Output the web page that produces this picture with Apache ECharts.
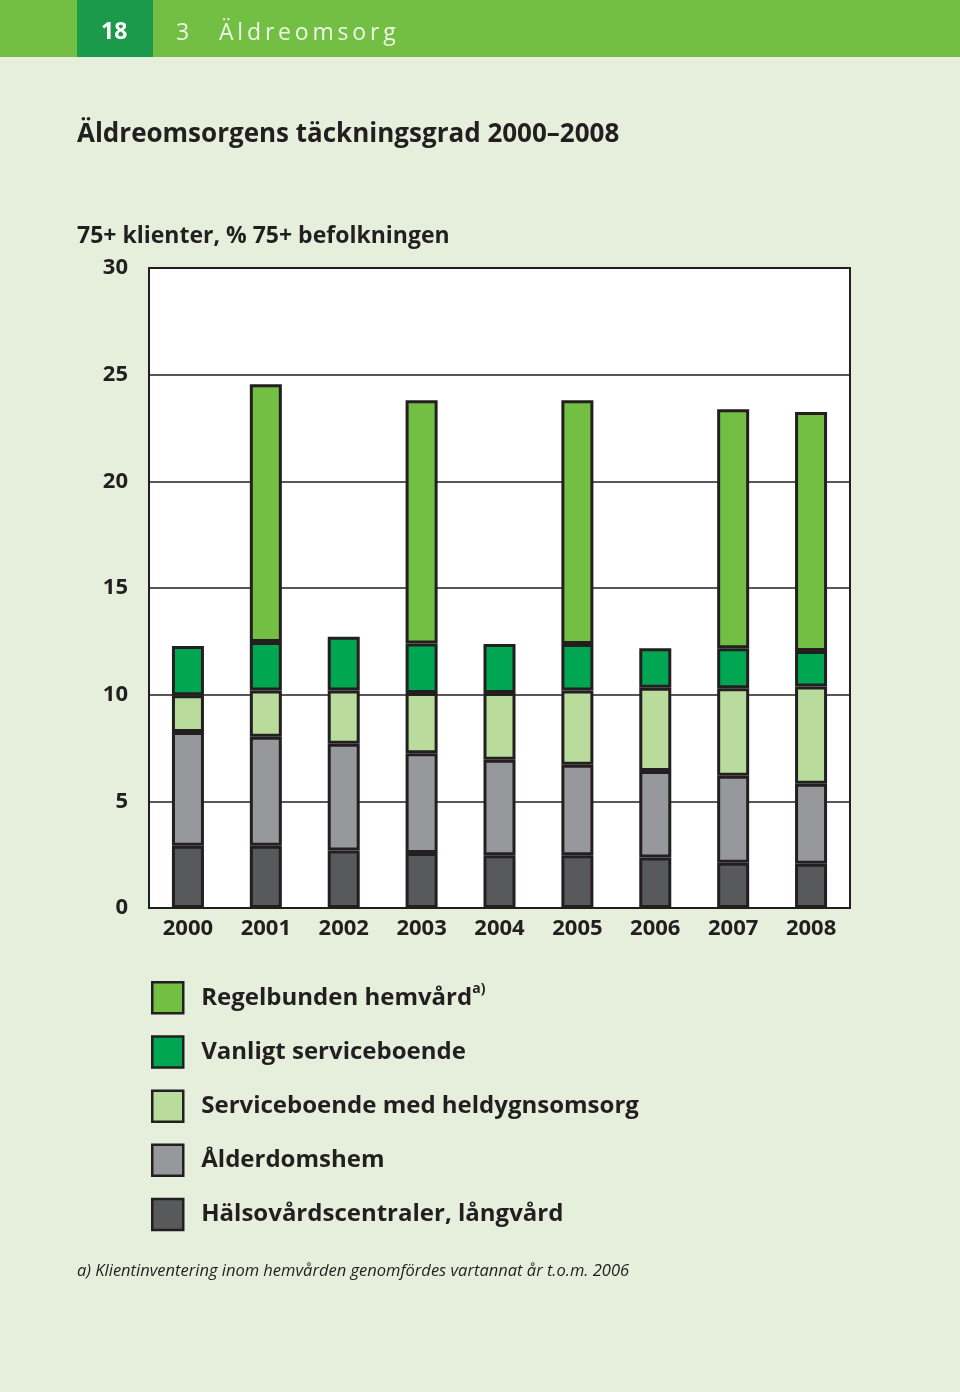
<!DOCTYPE html>
<html>
<head>
<meta charset="utf-8">
<script src="https://cdn.jsdelivr.net/npm/echarts@6/dist/echarts.min.js"></script>
<style>
html,body{margin:0;padding:0;background:#e5efdc;}
#c{width:960px;height:1392px;}
</style>
</head>
<body>
<div id="c"></div>
<script>
const years = ['2000','2001','2002','2003','2004','2005','2006','2007','2008'];
const yTicks = [0, 5, 10, 15, 20, 25, 30];
const halsovard = [2.92, 2.92, 2.70, 2.58, 2.47, 2.47, 2.37, 2.12, 2.08];
const alderdomshem = [5.33, 5.11, 5.00, 4.67, 4.48, 4.25, 4.05, 4.08, 3.75];
const heldygn = [1.72, 2.17, 2.50, 2.83, 3.13, 3.48, 3.91, 4.10, 4.55];
const vanligt = [2.31, 2.27, 2.52, 2.32, 2.29, 2.17, 1.84, 1.87, 1.67];
const regelbunden = [null, 12.08, null, 11.40, null, 11.43, null, 11.21, 11.20];

const names = ['Regelbunden hemvård', 'Vanligt serviceboende', 'Serviceboende med heldygnsomsorg', 'Ålderdomshem', 'Hälsovårdscentraler, långvård'];
const colors = {
  'Regelbunden hemvård': '#72bf44',
  'Vanligt serviceboende': '#00a651',
  'Serviceboende med heldygnsomsorg': '#b9dc9d',
  'Ålderdomshem': '#97989c',
  'Hälsovårdscentraler, långvård': '#58595b'
};
const stackOrder = [
  ['Hälsovårdscentraler, långvård', halsovard],
  ['Ålderdomshem', alderdomshem],
  ['Serviceboende med heldygnsomsorg', heldygn],
  ['Vanligt serviceboende', vanligt],
  ['Regelbunden hemvård', regelbunden]
];
const ink = '#231f20';
const FONT = '"Open Sans", "DejaVu Sans", sans-serif';

const chart = echarts.init(document.getElementById('c'), null, {renderer: 'canvas'});
chart.setOption({
  backgroundColor: '#e5efdc',
  animation: false,
  textStyle: {fontFamily: FONT},
  graphic: [
    {type: 'rect', left: 0, top: 0, shape: {width: 960, height: 57}, style: {fill: '#72bf44'}},
    {type: 'rect', left: 77, top: 0, shape: {width: 76, height: 57}, style: {fill: '#1a9a4a'}},
    {type: 'text', left: 101, top: 21, style: {text: '18', fill: '#ffffff', font: 'bold 23px ' + FONT}},
    {type: 'text', left: 176, top: 22, style: {text: '3', fill: '#eef7e6', font: '23px ' + FONT}},
    {type: 'text', left: 219, top: 22, style: {text: 'Ä\u2009l\u2009d\u2009r\u2009e\u2009o\u2009m\u2009s\u2009o\u2009r\u2009g', fill: '#eef7e6', font: '23px ' + FONT}},
    {type: 'text', left: 77, top: 122, style: {text: 'Äldreomsorgens täckningsgrad 2000–2008', fill: ink, font: 'bold 26px ' + FONT}},
    {type: 'text', left: 77, top: 225, style: {text: '75+ klienter, % 75+ befolkningen', fill: ink, font: 'bold 23px ' + FONT}},
    {type: 'text', left: 77, top: 1263, style: {text: 'a) Klientinventering inom hemvården genomfördes vartannat år t.o.m. 2006', fill: ink, font: 'italic 16.5px ' + FONT}}
  ],
  grid: {
    left: 149, right: 110, top: 268, bottom: 484,
    show: true, backgroundColor: '#ffffff', borderColor: ink, borderWidth: 2
  },
  legend: {
    orient: 'vertical', left: 151, top: 981, padding: 0,
    itemWidth: 31, itemHeight: 31, itemGap: 20.7,
    data: names,
    icon: 'rect',
    itemStyle: {borderColor: ink, borderWidth: 2.5},
    formatter: function (n) {
      return n === 'Regelbunden hemvård' ? '{t|' + n + '}{s|a)}' : '{t|' + n + '}';
    },
    textStyle: {
      color: ink, fontFamily: FONT, fontWeight: 'bold', fontSize: 24, lineHeight: 31, padding: [0, 0, 0, 13],
      rich: {
        t: {color: ink, fontFamily: FONT, fontWeight: 'bold', fontSize: 24, lineHeight: 31},
        s: {color: ink, fontFamily: FONT, fontWeight: 'bold', fontSize: 14, lineHeight: 31, verticalAlign: 'top', padding: [0, 0, 12, 0]}
      }
    }
  },
  xAxis: {
    type: 'category', data: years,
    axisLine: {show: true, lineStyle: {color: ink, width: 2}},
    axisTick: {show: false},
    axisLabel: {color: ink, fontFamily: FONT, fontWeight: 'bold', fontSize: 22, margin: 10}
  },
  yAxis: {
    type: 'value', min: yTicks[0], max: yTicks[yTicks.length - 1], interval: 5,
    axisLine: {show: true, lineStyle: {color: ink, width: 2}},
    axisTick: {show: false},
    axisLabel: {color: ink, fontFamily: FONT, fontWeight: 'bold', fontSize: 22, margin: 21},
    splitLine: {show: true, lineStyle: {color: ink, width: 1.5}}
  },
  series: stackOrder.map(function (p) {
    return {
      name: p[0], type: 'bar', stack: 'total', data: p[1], barWidth: 32,
      itemStyle: {color: colors[p[0]], borderColor: ink, borderWidth: 3}
    };
  })
});
</script>
</body>
</html>
